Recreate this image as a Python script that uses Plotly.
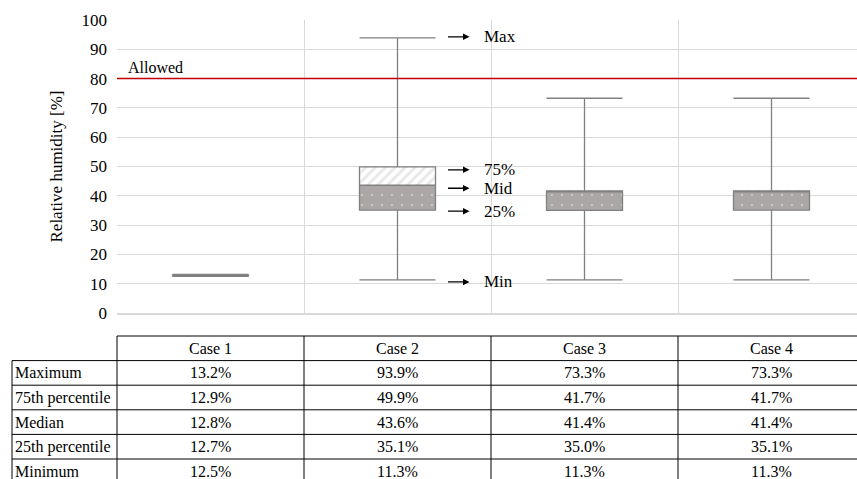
import plotly.graph_objects as go

# ---- data -------------------------------------------------------------
cases = ["Case 1", "Case 2", "Case 3", "Case 4"]
maximum = [13.2, 93.9, 73.3, 73.3]
p75 = [12.9, 49.9, 41.7, 41.7]
median = [12.8, 43.6, 41.4, 41.4]
p25 = [12.7, 35.1, 35.0, 35.1]
minimum = [12.5, 11.3, 11.3, 11.3]
allowed_limit = 80
row_labels = ["Maximum", "75th percentile", "Median", "25th percentile", "Minimum"]
marker_labels = ["Max", "75%", "Mid", "25%", "Min"]
y_ticks = list(range(0, 101, 10))

FONT = "Liberation Serif, Times New Roman, serif"
W, H = 857, 479
PLOT_L, PLOT_R, PLOT_T, PLOT_B = 117, 857, 20, 313
CAT_PX = 187                      # width of one case column in pixels
x_range = [-0.5, -0.5 + (PLOT_R - PLOT_L) / CAT_PX]
box_w = 76 / CAT_PX

pos = list(range(len(cases)))


def px_x(px):
    return (px - PLOT_L) / (PLOT_R - PLOT_L)


def px_y(py):
    return (PLOT_B - py) / (PLOT_B - PLOT_T)


def data_x(v):
    return (v - x_range[0]) / (x_range[1] - x_range[0])


fig = go.Figure()

# lower half of the box (25th percentile -> median), dotted grey
fig.add_trace(go.Bar(
    x=pos, base=p25, y=[m - q for m, q in zip(median, p25)], width=box_w,
    marker=dict(color="#aba7a7", line=dict(width=0),
                pattern=dict(shape=".", fgcolor="white", bgcolor="#aba7a7",
                             size=10, solidity=0.03)),
    hoverinfo="skip", showlegend=False))

# upper half of the box (median -> 75th percentile), light hatching
fig.add_trace(go.Bar(
    x=pos, base=median, y=[q - m for q, m in zip(p75, median)], width=box_w,
    marker=dict(color="white", line=dict(width=0),
                pattern=dict(shape="/", fgcolor="#cfcfcf", bgcolor="white",
                             size=7, solidity=0.4)),
    hoverinfo="skip", showlegend=False))

# outline, median line and whiskers
fig.add_trace(go.Box(
    x=pos, q1=p25, median=median, q3=p75, lowerfence=minimum, upperfence=maximum,
    width=box_w, whiskerwidth=1, boxpoints=False,
    fillcolor="rgba(0,0,0,0)", line=dict(color="#808080", width=1.3),
    hoverinfo="skip", showlegend=False))

shapes = []
annotations = []

# allowed limit
shapes.append(dict(type="line", xref="paper", yref="y", x0=0, x1=1,
                   y0=allowed_limit, y1=allowed_limit,
                   line=dict(color="#c00000", width=1.5)))
annotations.append(dict(xref="paper", yref="y", x=px_x(126), y=allowed_limit,
                        xanchor="left", yanchor="bottom", yshift=1,
                        text="Allowed", showarrow=False,
                        font=dict(family=FONT, size=16, color="black")))

# explanatory arrows next to Case 2
c = 1
levels = [maximum[c], p75[c], median[c], p25[c], minimum[c]]
shifts = [1, -3, -3, -1, -2]
for lab, val, ys in zip(marker_labels, levels, shifts):
    annotations.append(dict(xref="x", yref="y", x=c, y=val, xshift=72, yshift=ys,
                            text="", showarrow=True, ax=-23, ay=0,
                            arrowhead=2, arrowsize=1, arrowwidth=1.3,
                            arrowcolor="black"))
    annotations.append(dict(xref="x", yref="y", x=c, y=val, xshift=84, yshift=ys,
                            text=lab, showarrow=False, xanchor="left",
                            yanchor="middle",
                            font=dict(family=FONT, size=17, color="black")))

# ---- summary table below the chart -----------------------------------
TBL_TOP = 336
ROW_H = 24.6
LABEL_L = 12
n_rows = len(row_labels)
row_edges = [TBL_TOP + ROW_H * (k + 1) for k in range(n_rows + 1)]
tbl_bottom = row_edges[-1]
line_style = dict(color="black", width=1)

shapes.append(dict(type="line", xref="paper", yref="paper",
                   x0=data_x(-0.5), x1=1, y0=px_y(TBL_TOP), y1=px_y(TBL_TOP),
                   line=line_style))
for e in row_edges:
    shapes.append(dict(type="line", xref="paper", yref="paper",
                       x0=px_x(LABEL_L), x1=1, y0=px_y(e), y1=px_y(e),
                       line=line_style))
for b in [p - 0.5 for p in pos] + [pos[-1] + 0.5]:
    xb = data_x(b)
    if xb <= 1:
        shapes.append(dict(type="line", xref="paper", yref="paper",
                           x0=xb, x1=xb, y0=px_y(TBL_TOP), y1=px_y(tbl_bottom),
                           line=line_style))
shapes.append(dict(type="line", xref="paper", yref="paper",
                   x0=px_x(LABEL_L), x1=px_x(LABEL_L),
                   y0=px_y(row_edges[0]), y1=px_y(tbl_bottom), line=line_style))

tfont = dict(family=FONT, size=16, color="black")
for i, name in enumerate(cases):
    annotations.append(dict(xref="x", yref="paper", x=pos[i],
                            y=px_y(TBL_TOP + ROW_H / 2), text=name,
                            xanchor="center", yanchor="middle",
                            showarrow=False, font=tfont))
columns = [maximum, p75, median, p25, minimum]
for r, (lab, vals) in enumerate(zip(row_labels, columns)):
    yc = px_y(row_edges[r] + ROW_H / 2)
    annotations.append(dict(xref="paper", yref="paper", x=px_x(LABEL_L + 1), y=yc,
                            xanchor="left", yanchor="middle", text=lab,
                            showarrow=False, font=tfont))
    for i, v in enumerate(vals):
        annotations.append(dict(xref="x", yref="paper", x=pos[i], y=yc,
                                xanchor="center", yanchor="middle",
                                text=f"{v:.1f}%", showarrow=False, font=tfont))

fig.update_layout(
    width=W, height=H,
    margin=dict(l=PLOT_L, r=W - PLOT_R, t=PLOT_T, b=H - PLOT_B, pad=0),
    paper_bgcolor="white", plot_bgcolor="white",
    barmode="overlay", bargap=0,
    showlegend=False,
    font=dict(family=FONT, size=16, color="black"),
    xaxis=dict(range=x_range, tickmode="array",
               tickvals=[p - 0.5 for p in pos] + [pos[-1] + 0.5],
               showticklabels=False, ticks="", showgrid=True,
               gridcolor="#d9d9d9", gridwidth=1, zeroline=False,
               showline=True, linecolor="#d9d9d9", linewidth=2),
    yaxis=dict(range=[0, 100], tickmode="array", tickvals=y_ticks,
               showgrid=True, gridcolor="#d9d9d9", gridwidth=1, zeroline=False,
               ticks="", ticklabelstandoff=9,
               tickfont=dict(family=FONT, size=17, color="black"),
               title=dict(text="Relative humidity [%]", standoff=14,
                          font=dict(family=FONT, size=17, color="black"))),
    shapes=shapes,
    annotations=annotations,
)

fig.write_html("out.html")
